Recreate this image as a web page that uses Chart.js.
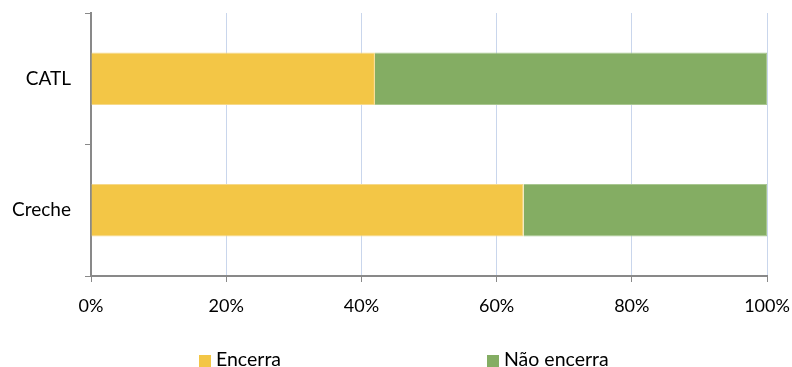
<!DOCTYPE html>
<html>
<head>
<meta charset="utf-8">
<script src="https://cdn.jsdelivr.net/npm/chart.js@4"></script>
<style>
  html, body { margin: 0; padding: 0; background: #fff; }
  #wrap { position: relative; width: 792px; height: 367px; }
  .legend-item {
    position: absolute;
    top: 348px;
    font-family: Lato, "Open Sans", sans-serif;
    font-size: 19.5px;
    line-height: 21px;
    color: #000;
    white-space: nowrap;
  }
  .legend-item span {
    display: inline-block;
    width: 12px;
    height: 12px;
    margin-right: 5px;
    vertical-align: -1px;
  }
</style>
</head>
<body>
<div id="wrap">
  <canvas id="barChart" width="792" height="367"></canvas>
  <div id="legend"></div>
</div>
<script>
const categories = ["CATL", "Creche"];
const encerra = [42, 64];
const naoEncerra = [58, 36];
const xTicks = [0, 20, 40, 60, 80, 100];
const seriesNames = ["Encerra", "Não encerra"];
const seriesColors = ["#F3C646", "#84AD63"];

const font = { family: "Lato, 'Open Sans', sans-serif", size: 18 };
const catFont = { family: "Lato, 'Open Sans', sans-serif", size: 19 };

// keep the plot box where the original has it
function noLabelPadding(axis) {
  axis.paddingTop = 0;
  axis.paddingBottom = 0;
  axis.paddingLeft = 0;
  axis.paddingRight = 0;
}

const ctx = document.getElementById("barChart").getContext("2d");

new Chart(ctx, {
  type: "bar",
  data: {
    labels: categories,
    datasets: [
      {
        label: seriesNames[0],
        data: encerra,
        backgroundColor: seriesColors[0],
        borderColor: "#F6D98A",
        borderWidth: 1,
        categoryPercentage: 1,
        barPercentage: 0.4
      },
      {
        label: seriesNames[1],
        data: naoEncerra,
        backgroundColor: seriesColors[1],
        borderColor: "#A9C791",
        borderWidth: 1,
        categoryPercentage: 1,
        barPercentage: 0.4
      }
    ]
  },
  options: {
    indexAxis: "y",
    responsive: false,
    animation: false,
    layout: { padding: { left: 0, right: 25, top: 13, bottom: 39 } },
    plugins: {
      tooltip: { enabled: false },
      legend: { display: false }
    },
    scales: {
      x: {
        stacked: true,
        min: 0,
        max: 100,
        afterBuildTicks: axis => {
          axis.ticks = xTicks.map(v => ({ value: v }));
        },
        ticks: {
          font: font,
          color: "#000",
          padding: 13,
          maxRotation: 0,
          callback: v => v + "%"
        },
        grid: {
          color: "#C9D6EC",
          tickColor: "#898989",
          tickLength: 6
        },
        border: { color: "#898989", width: 2 },
        afterFit: axis => {
          axis.height = 52;
          noLabelPadding(axis);
        }
      },
      y: {
        stacked: true,
        ticks: {
          font: catFont,
          color: "#000",
          padding: 14
        },
        grid: {
          drawOnChartArea: false,
          tickColor: "#898989",
          tickLength: 6
        },
        border: { color: "#898989", width: 2 },
        afterFit: axis => {
          axis.width = 91;
          noLabelPadding(axis);
        }
      }
    }
  }
});

// legend drawn as html, placed like the original
const legendLeft = [199, 487];
const legend = document.getElementById("legend");
seriesNames.forEach((name, i) => {
  const item = document.createElement("div");
  item.className = "legend-item";
  item.style.left = legendLeft[i] + "px";
  item.innerHTML = `<span style="background:${seriesColors[i]}"></span>${name}`;
  legend.appendChild(item);
});
</script>
</body>
</html>
